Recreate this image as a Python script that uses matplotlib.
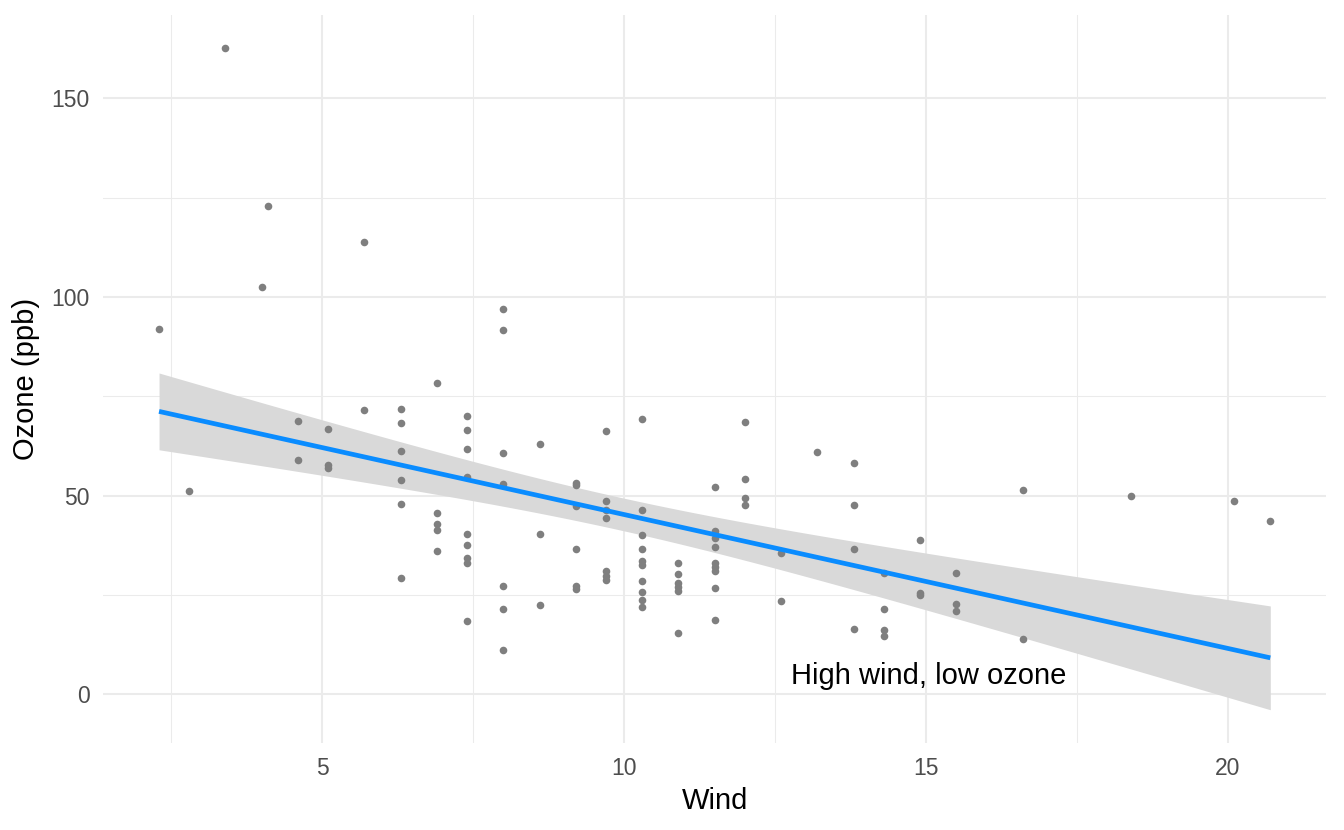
import numpy as np
import matplotlib
matplotlib.use("Agg")
import matplotlib.pyplot as plt
from matplotlib.ticker import MultipleLocator

plt.rcParams['font.family'] = ['Liberation Sans', 'DejaVu Sans']

# wind speed (mph) and ozone (ppb)
wind = [2.3, 2.8, 3.4, 4.0, 4.1,
        4.6, 4.6,
        5.1, 5.1, 5.1,
        5.7, 5.7,
        6.3, 6.3, 6.3, 6.3, 6.3, 6.3,
        6.9, 6.9, 6.9, 6.9, 6.9,
        7.4, 7.4, 7.4, 7.4, 7.4, 7.4, 7.4, 7.4, 7.4,
        8.0, 8.0, 8.0, 8.0, 8.0, 8.0, 8.0,
        8.6, 8.6, 8.6,
        9.2, 9.2, 9.2, 9.2, 9.2, 9.2,
        9.7, 9.7, 9.7, 9.7, 9.7, 9.7, 9.7,
        10.3, 10.3, 10.3, 10.3, 10.3, 10.3, 10.3, 10.3, 10.3, 10.3,
        10.9, 10.9, 10.9, 10.9, 10.9, 10.9,
        11.5, 11.5, 11.5, 11.5, 11.5, 11.5, 11.5, 11.5, 11.5,
        12.0, 12.0, 12.0, 12.0,
        12.6, 12.6,
        13.2,
        13.8, 13.8, 13.8, 13.8,
        14.3, 14.3, 14.3, 14.3,
        14.9, 14.9, 14.9,
        15.5, 15.5, 15.5,
        16.6, 16.6,
        18.4, 20.1, 20.7]
ozone = [92.1, 51.2, 162.8, 102.5, 122.9,
         68.8, 59.1,
         66.8, 57.7, 56.9,
         114.0, 71.6,
         71.8, 68.2, 61.2, 54.0, 47.9, 29.3,
         78.4, 45.6, 42.9, 41.4, 36.0,
         70.2, 66.6, 61.7, 54.7, 40.4, 37.5, 34.3, 33.2, 18.6,
         97.0, 91.7, 60.8, 52.9, 27.3, 21.4, 11.2,
         63.0, 40.5, 22.4,
         53.3, 52.6, 47.5, 36.5, 27.4, 26.6,
         66.2, 48.7, 46.4, 44.4, 31.0, 29.9, 28.7,
         69.4, 46.5, 40.2, 36.6, 33.6, 32.7, 28.5, 25.9, 23.9, 22.0,
         33.0, 30.2, 28.1, 27.1, 26.0, 15.5,
         52.2, 41.2, 39.5, 37.0, 33.2, 32.1, 31.0, 26.9, 18.8,
         68.5, 54.2, 49.4, 47.8,
         35.6, 23.5,
         61.0,
         58.3, 47.6, 36.6, 16.5,
         30.5, 21.4, 16.3, 14.6,
         38.8, 25.6, 25.0,
         30.5, 22.8, 21.1,
         51.5, 14.0,
         49.9, 48.8, 43.7]

x = np.array(wind)
y = np.array(ozone)

# linear fit with 95% confidence band (like geom_smooth(method = "lm"))
n = len(x)
slope, intercept = np.polyfit(x, y, 1)
resid = y - (intercept + slope * x)
s = np.sqrt(np.sum(resid ** 2) / (n - 2))
t_crit = 1.983
xs = np.linspace(x.min(), x.max(), 80)
fit = intercept + slope * xs
se = s * np.sqrt(1 / n + (xs - x.mean()) ** 2 / np.sum((x - x.mean()) ** 2))

fig, ax = plt.subplots(figsize=(13.44, 8.3), dpi=100)
fig.subplots_adjust(left=0.077, right=0.9865, bottom=0.105, top=0.9825)

ax.scatter(x, y, s=30, color='#7f7f7f', linewidths=0, zorder=3)
ax.fill_between(xs, fit - t_crit * se, fit + t_crit * se, color='#d9d9d9', linewidth=0, zorder=2)
ax.plot(xs, fit, color='#0a8cff', lw=3.4, zorder=4, solid_capstyle='butt')

ax.text(15.05, 2.6, 'High wind, low ozone', ha='center', va='baseline', fontsize=21, color='black', zorder=5)

ax.margins(0.05)
ax.xaxis.set_major_locator(MultipleLocator(5))
ax.xaxis.set_minor_locator(MultipleLocator(2.5))
ax.yaxis.set_major_locator(MultipleLocator(50))
ax.yaxis.set_minor_locator(MultipleLocator(25))
ax.grid(which='major', color='#ebebeb', lw=1.5)
ax.grid(which='minor', color='#ebebeb', lw=0.75)
ax.set_axisbelow(True)
for sp in ax.spines.values():
    sp.set_visible(False)
ax.tick_params(which='both', length=0, pad=10, labelsize=16.5, labelcolor='#4d4d4d')

ax.set_xlabel('Wind', fontsize=21, labelpad=5)
ax.set_ylabel('Ozone (ppb)', fontsize=21, labelpad=8)

fig.savefig('out.png', dpi=100)
